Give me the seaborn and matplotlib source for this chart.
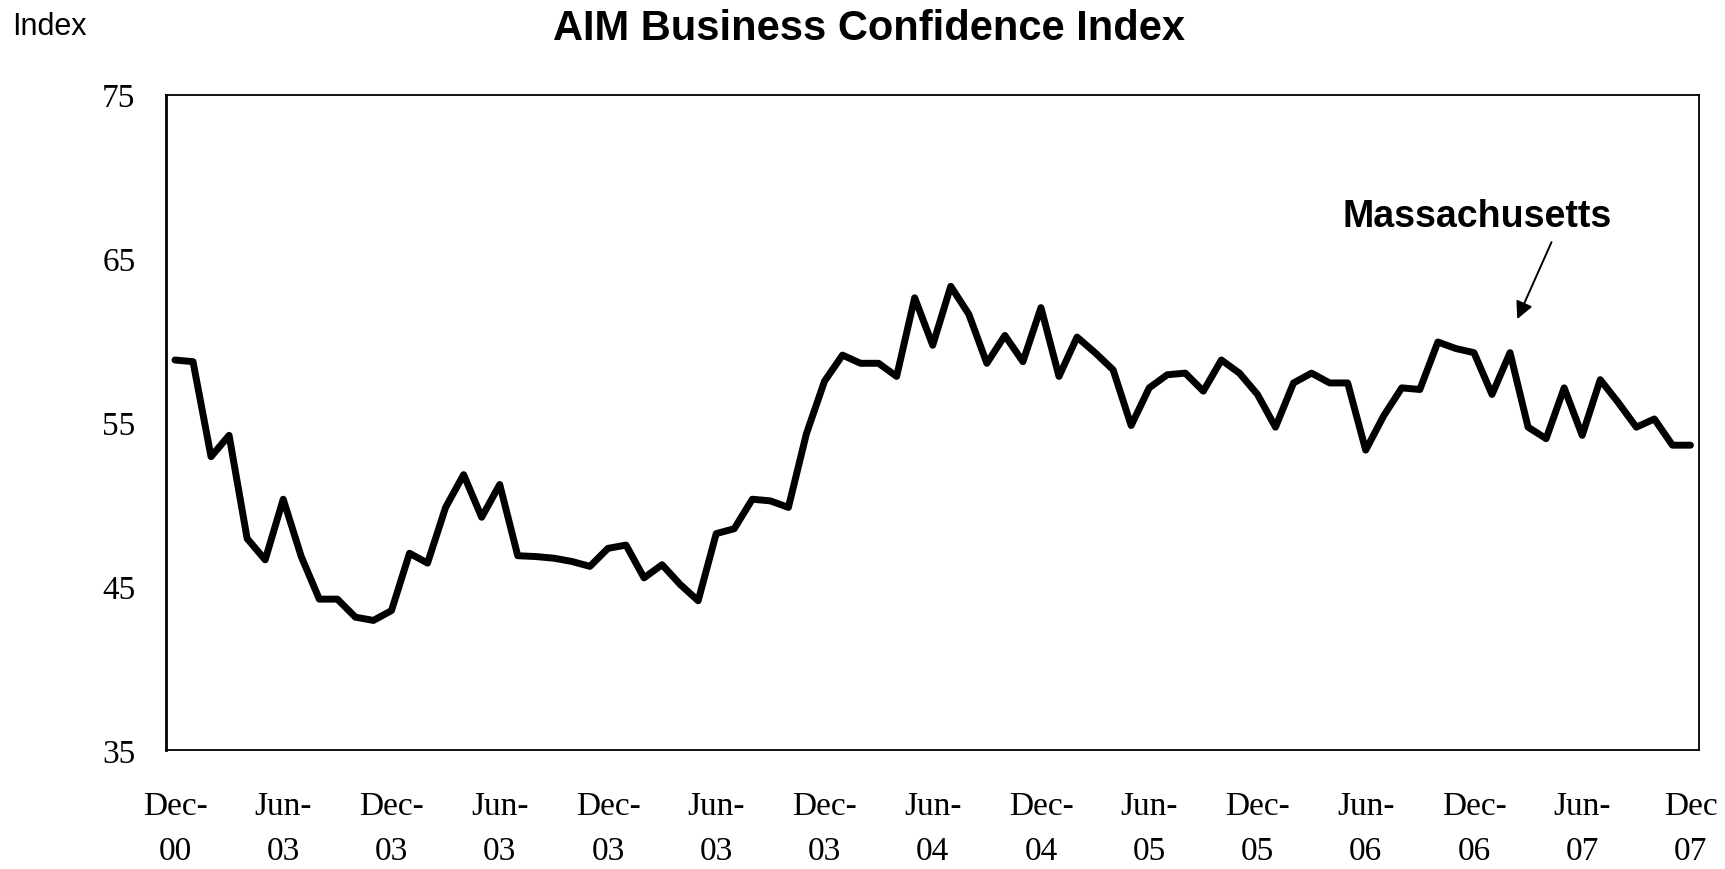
import numpy as np
import pandas as pd
import matplotlib
matplotlib.use("Agg")
import matplotlib.pyplot as plt
import seaborn as sns

# monthly index values, Dec-00 .. Dec-07 (as drawn)
confidence = [
    58.8, 58.7, 52.9, 54.2, 47.9, 46.6, 50.3, 46.8, 44.2, 44.2,
    43.1, 42.9, 43.5, 47.0, 46.4, 49.8, 51.8, 49.2, 51.2, 46.85,
    46.8, 46.7, 46.5, 46.2, 47.3, 47.5, 45.5, 46.3, 45.1, 44.1,
    48.2, 48.5, 50.3, 50.2, 49.8, 54.3, 57.5, 59.1, 58.6, 58.6,
    57.8, 62.6, 59.7, 63.3, 61.6, 58.6, 60.3, 58.7, 62.0, 57.8,
    60.2, 59.25, 58.2, 54.8, 57.1, 57.9, 58.0, 56.9, 58.8, 58.0,
    56.7, 54.7, 57.4, 58.0, 57.4, 57.4, 53.3, 55.4, 57.1, 57.0,
    59.9, 59.5, 59.25, 56.7, 59.25, 54.7, 54.0, 57.1, 54.2, 57.6,
    56.2, 54.7, 55.2, 53.6, 53.6,
]

tick_labels = ["Dec-\n00", "Jun-\n03", "Dec-\n03", "Jun-\n03", "Dec-\n03",
               "Jun-\n03", "Dec-\n03", "Jun-\n04", "Dec-\n04", "Jun-\n05",
               "Dec-\n05", "Jun-\n06", "Dec-\n06", "Jun-\n07", "Dec\n07"]

df = pd.DataFrame({"month": np.arange(len(confidence)), "index": confidence})

sns.set_style("white")
plt.rcParams["text.color"] = "black"
plt.rcParams["xtick.color"] = "black"
plt.rcParams["ytick.color"] = "black"

fig = plt.figure(figsize=(17.25, 8.7), dpi=100)
ax = fig.add_axes([0.0962, 0.137, 0.889, 0.753])

sns.lineplot(data=df, x="month", y="index", color="black", linewidth=5, ax=ax)

ax.set_xlim(-0.5, len(confidence) - 0.5)
ax.set_ylim(35, 75)
ax.set_xlabel("")
ax.set_ylabel("")

# labels on the categories, tick marks between categories
label_pos = np.arange(0, len(confidence), 6)
ax.set_xticks(label_pos)
ax.set_xticklabels(tick_labels, family="Liberation Serif", fontsize=24, linespacing=1.65)
ax.tick_params(axis="x", which="major", length=0, pad=29)
ax.set_xticks(label_pos - 0.5, minor=True)
ax.tick_params(axis="x", which="minor", direction="inout", length=16, width=1.3, color="black")

ax.set_yticks([35, 45, 55, 65, 75])
ax.set_yticklabels(["35", "45", "55", "65", "75"], family="Liberation Serif", fontsize=24)
ax.tick_params(axis="y", direction="in", length=10, width=1.3, color="black", pad=22)

for s in ax.spines.values():
    s.set_color("black")
    s.set_linewidth(1.3)
ax.spines["left"].set_linewidth(2)

fig.text(0.504, 0.967, "AIM Business Confidence Index", ha="center", va="center",
         family="Liberation Sans", fontweight="bold", fontsize=30)
fig.text(0.007, 0.969, "Index", ha="left", va="center",
         family="Liberation Sans", fontsize=22)

ax.text(72.2, 67.6, "Massachusetts", ha="center", va="center",
        family="Liberation Sans", fontweight="bold", fontsize=27)
ax.annotate("", xy=(74.4, 61.3), xytext=(76.3, 66.0),
            arrowprops=dict(arrowstyle="-|>", color="black", lw=1.4,
                            shrinkA=0, shrinkB=0, mutation_scale=26))

fig.savefig("out.png", dpi=100)
